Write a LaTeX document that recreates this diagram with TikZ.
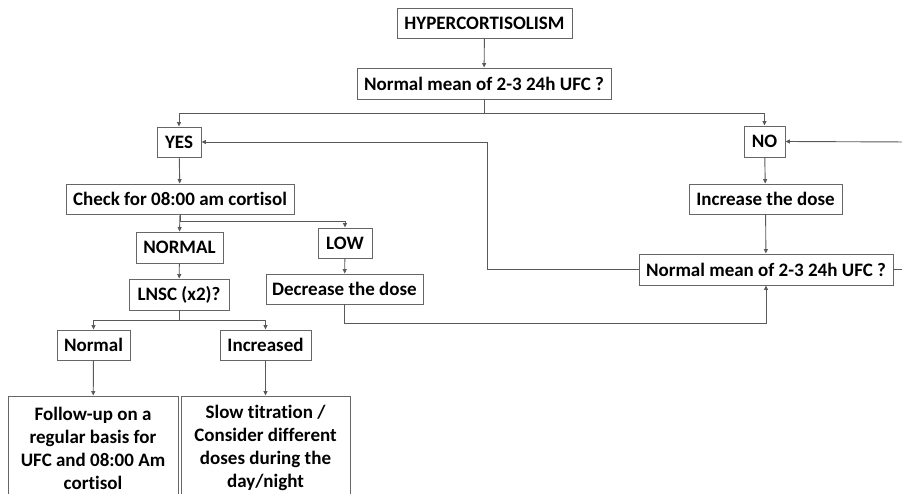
\documentclass[tikz,border=0pt]{standalone}
\usepackage{fontspec}
\setmainfont{Carlito}[Ligatures=CommonOff]
\usetikzlibrary{arrows.meta}
\begin{document}
\begin{tikzpicture}[x=1pt,y=-1pt,
  box/.style={draw=black!60,line width=0.9pt,fill=white,inner sep=0pt,align=center,
    font=\fontsize{19}{23}\selectfont\bfseries,text=black},
  conn/.style={draw=black!65,line width=0.9pt},
  arr/.style={conn,-{Triangle[length=4.5pt,width=4pt]}}]
\useasboundingbox (0,0) rectangle (902,494);
\clip (0,0) rectangle (902,494);
\node[box,minimum width=175,minimum height=30] (hyper) at (484.5,23) {HYPERCORTISOLISM};
\node[box,minimum width=254,minimum height=31] (q1) at (484,83.5) {Normal mean of 2-3 24h UFC ?};
\node[box,minimum width=44,minimum height=30] (yes) at (179,142) {YES};
\node[box,minimum width=41,minimum height=31] (no) at (764.5,141.5) {NO};
\node[box,minimum width=153,minimum height=30] (inc) at (765.5,199) {Increase the dose};
\node[box,minimum width=254,minimum height=31] (q2) at (766,269.5) {Normal mean of 2-3 24h UFC ?};
\node[box,minimum width=228,minimum height=30] (check) at (180,199) {Check for 08:00 am cortisol};
\node[box,minimum width=87,minimum height=31] (normal) at (179.5,247.5) {NORMAL};
\node[box,minimum width=54,minimum height=30] (low) at (345,243) {LOW};
\node[box,minimum width=100,minimum height=31] (lnsc) at (179,294.5) {LNSC (x2)?};
\node[box,minimum width=157,minimum height=30] (dec) at (344.5,289) {Decrease the dose};
\node[box,minimum width=73,minimum height=30] (nrm) at (93.5,345) {Normal};
\node[box,minimum width=91,minimum height=30] (incd) at (265.5,345) {Increased};
\node[box,minimum width=170,minimum height=104] (fol) at (93,448) {Follow-up on a\\regular basis for\\UFC and 08:00 Am\\cortisol};
\node[box,minimum width=169,minimum height=104] (slow) at (265.5,448) {Slow titration /\\Consider different\\doses during the\\day/night};
\coordinate (rin) at (910,142);
\coordinate (rout) at (910,269.5);
% connectors
\draw[arr] (hyper) -- (q1);
\draw[arr] (q1.south) |- (484,113) -| (yes.north);
\draw[arr] (q1.south) |- (484,113) -| (no.north);
\draw[arr] (q2.west) -| (487,142) -- (yes.east);
\draw[arr] (rin) -- (no.east);
\draw[conn] (q2.east) -- (rout);
\draw[arr] (no) -- (inc);
\draw[arr] (inc) -- (q2);
\draw[arr] (yes) -- (check);
\draw[arr] (check.south) -- (normal.north);
\draw[arr] (check.south) |- (345,221) -- (low.north);
\draw[arr] (low) -- (dec);
\draw[arr] (dec.south) |- (766,323) -- (q2.south);
\draw[arr] (normal) -- (lnsc);
\draw[arr] (lnsc.south) |- (93.5,320) -- (nrm.north);
\draw[arr] (lnsc.south) |- (265.5,320) -- (incd.north);
\draw[arr] (nrm) -- (fol);
\draw[arr] (incd) -- (slow);
\end{tikzpicture}
\end{document}
